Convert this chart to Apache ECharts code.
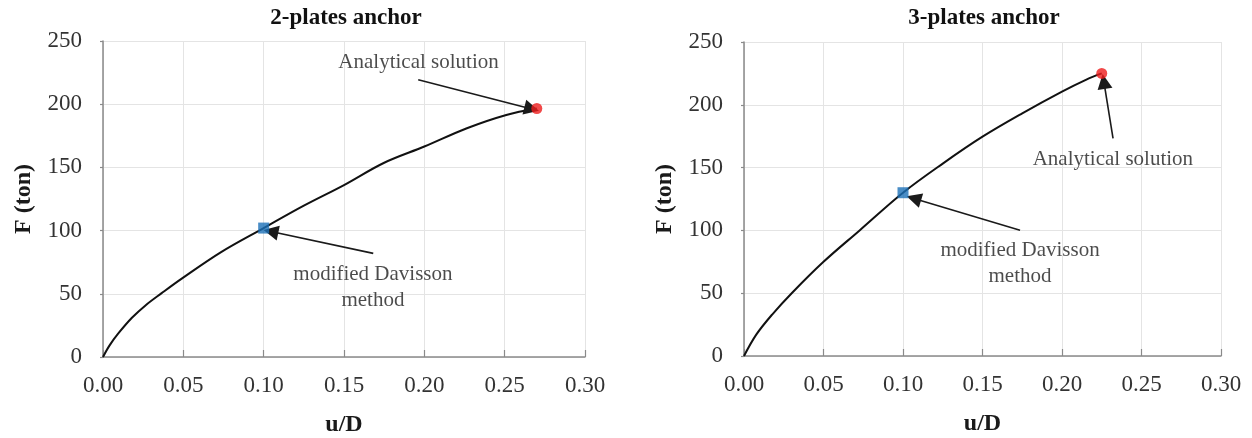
<!DOCTYPE html>
<html>
<head>
<meta charset="utf-8">
<script src="https://cdn.jsdelivr.net/npm/echarts@6/dist/echarts.min.js"></script>
<style>
html,body{margin:0;padding:0;background:#fff;}
#c{width:1252px;height:438px;}
</style>
</head>
<body>
<div id="c"></div>
<script>
// ---- data ----
const titles = ['2-plates anchor', '3-plates anchor'];
const xAxisName = 'u/D';
const yAxisName = 'F (ton)';

const left_u = [0, 0.004, 0.0094, 0.018, 0.0266, 0.0365, 0.049, 0.0735, 0.10, 0.125, 0.150, 0.1747, 0.200, 0.2265, 0.251, 0.270];
const left_F = [0, 9, 18.4, 31, 41, 50.5, 62, 83, 102, 119.7, 136, 153.5, 166.5, 181, 191.5, 196.6];

const right_u = [0, 0.0077, 0.0177, 0.030, 0.050, 0.0727, 0.100, 0.125, 0.150, 0.175, 0.200, 0.215, 0.225];
const right_F = [0, 17, 33, 50, 75, 100, 130, 153.2, 174.6, 193.2, 210.5, 219.9, 225];

// modified Davisson point and analytical solution point [u/D, F]
const left_davisson = [0.10, 102];
const left_analytical = [0.27, 196.6];
const right_davisson = [0.10, 130];
const right_analytical = [0.225, 225];

// annotation text anchors and arrows (data space)
const left_analyticalLabel = [0.1964, 232.8];
const left_analyticalArrow = [[0.1962, 219.3], [0.2668, 196.2]];
const left_davissonLabel = [0.168, 55];
const left_davissonArrow = [[0.1682, 82.0], [0.1045, 99.3]];

const right_analyticalLabel = [0.232, 156.5];
const right_analyticalArrow = [[0.2321, 173.2], [0.2263, 218.6]];
const right_davissonLabel = [0.1736, 73.5];
const right_davissonArrow = [[0.1736, 100.1], [0.1068, 125.4]];

const labelAnalytical = 'Analytical solution';
const labelDavisson = 'modified Davisson\nmethod';

// ---- chart ----
const FONT = 'Liberation Serif';
const zip = (a, b) => a.map((v, i) => [v, b[i]]);

function xAxis(gi) {
  return {
    type: 'value', gridIndex: gi, min: 0, max: 0.30, interval: 0.05,
    name: xAxisName, nameLocation: 'middle', nameGap: 56,
    nameTextStyle: {fontFamily: FONT, fontWeight: 'bold', fontSize: 24, color: '#1a1a1a'},
    axisLine: {show: true, lineStyle: {color: '#8a8a8a', width: 1.5}},
    axisTick: {show: true, inside: true, length: 7, lineStyle: {color: '#8a8a8a', width: 1.2}},
    axisLabel: {fontFamily: FONT, fontSize: 23, color: '#333', margin: 17,
      formatter: v => v.toFixed(2)},
    splitLine: {show: true, lineStyle: {color: '#e4e4e4', width: 1}}
  };
}
function yAxis(gi) {
  return {
    type: 'value', gridIndex: gi, min: 0, max: 250, interval: 50,
    name: yAxisName, nameLocation: 'middle', nameGap: 67, nameRotate: 90,
    nameTextStyle: {fontFamily: FONT, fontWeight: 'bold', fontSize: 24, color: '#1a1a1a'},
    axisLine: {show: true, lineStyle: {color: '#8a8a8a', width: 1.5}},
    axisTick: {show: true, inside: false, length: 3, lineStyle: {color: '#8a8a8a', width: 1.2}},
    axisLabel: {fontFamily: FONT, fontSize: 23, color: '#333', margin: 21},
    splitLine: {show: true, lineStyle: {color: '#e4e4e4', width: 1}}
  };
}

function seriesFor(gi, u, F, dav, ana, anaLab, anaArr, davLab, davArr) {
  const base = {xAxisIndex: gi, yAxisIndex: gi};
  const textLabel = {show: true, position: 'inside', fontFamily: FONT, fontSize: 21,
    color: '#1e1e1e', lineHeight: 26, align: 'center', verticalAlign: 'middle'};
  return [
    Object.assign({type: 'line', data: zip(u, F), smooth: 0.35, showSymbol: false,
      lineStyle: {color: '#111', width: 2}, z: 2}, base),
    Object.assign({type: 'lines', coordinateSystem: 'cartesian2d',
      symbol: ['none', 'triangle'], symbolSize: [12, 15],
      lineStyle: {color: '#1a1a1a', width: 1.6, opacity: 1},
      data: [{coords: anaArr}, {coords: davArr}], z: 4}, base),
    Object.assign({type: 'scatter', data: [dav], symbol: 'rect', symbolSize: 11,
      itemStyle: {color: '#1b70b8'}, z: 5}, base),
    Object.assign({type: 'scatter', data: [ana], symbol: 'circle', symbolSize: 11,
      itemStyle: {color: '#ee1c1c'}, z: 5}, base),
    Object.assign({type: 'scatter', symbolSize: 1, itemStyle: {color: 'rgba(0,0,0,0)'},
      data: [{value: anaLab, label: Object.assign({}, textLabel, {formatter: labelAnalytical})},
             {value: davLab, label: Object.assign({}, textLabel, {formatter: labelDavisson})}],
      z: 6}, base)
  ];
}

const chart = echarts.init(document.getElementById('c'));
chart.setOption({
  animation: false,
  backgroundColor: '#fff',
  graphic: [
    {type: 'text', x: 346, y: 18, style: {text: titles[0], font: 'bold 23px "Liberation Serif"', fill: '#111', textAlign: 'center', textVerticalAlign: 'middle'}},
    {type: 'text', x: 984, y: 18, style: {text: titles[1], font: 'bold 23px "Liberation Serif"', fill: '#111', textAlign: 'center', textVerticalAlign: 'middle'}}
  ],
  grid: [
    {left: 103, top: 41, width: 482, height: 316, outerBoundsMode: 'none', containLabel: false},
    {left: 744, top: 42, width: 477, height: 314, outerBoundsMode: 'none', containLabel: false}
  ],
  xAxis: [xAxis(0), xAxis(1)],
  yAxis: [yAxis(0), yAxis(1)],
  series: [].concat(
    seriesFor(0, left_u, left_F, left_davisson, left_analytical,
      left_analyticalLabel, left_analyticalArrow, left_davissonLabel, left_davissonArrow),
    seriesFor(1, right_u, right_F, right_davisson, right_analytical,
      right_analyticalLabel, right_analyticalArrow, right_davissonLabel, right_davissonArrow)
  )
});
</script>
</body>
</html>
